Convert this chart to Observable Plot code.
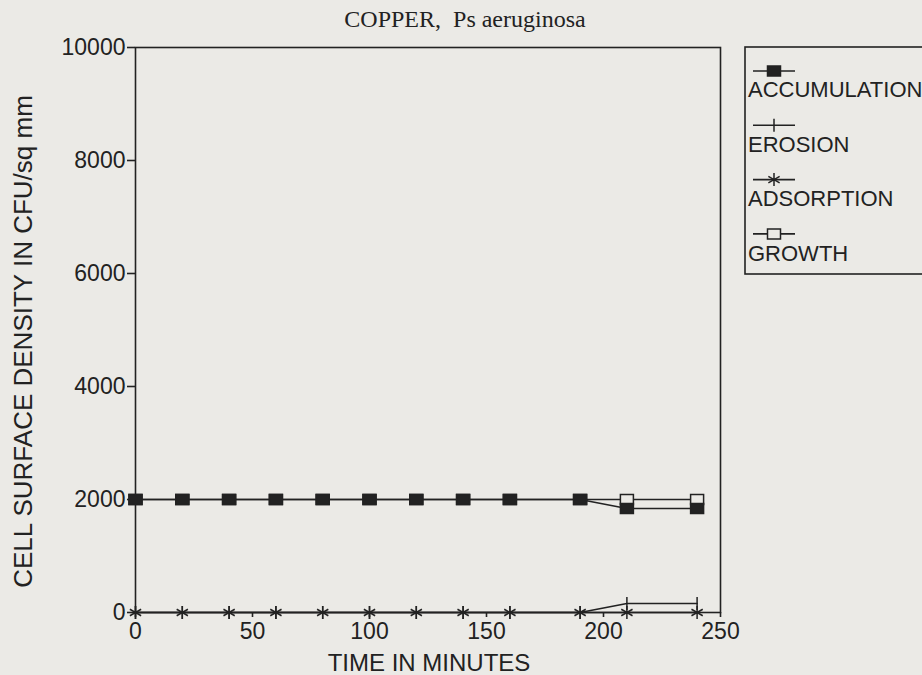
<!DOCTYPE html>
<html><head><meta charset="utf-8">
<script src="https://cdn.jsdelivr.net/npm/d3@7"></script>
<script src="https://cdn.jsdelivr.net/npm/@observablehq/plot@0.6"></script>
<style>
html,body{margin:0;padding:0;background:#ebeae6;}
#chart{width:922px;height:675px;overflow:hidden;}
</style></head><body><div id="chart"></div>
<script>
const title = "COPPER,\u00a0\u00a0Ps aeruginosa";
const xLabel = "TIME IN MINUTES";
const yLabel = "CELL SURFACE DENSITY IN CFU/sq mm";
const seriesNames = ["ACCUMULATION", "EROSION", "ADSORPTION", "GROWTH"];
const time =         [0, 20, 40, 60, 80, 100, 120, 140, 160, 190, 210, 240];
const accumulation = [2000, 2000, 2000, 2000, 2000, 2000, 2000, 2000, 2000, 2000, 1840, 1840];
const erosion =      [0, 0, 0, 0, 0, 0, 0, 0, 0, 0, 160, 160];
const adsorption =   [0, 0, 0, 0, 0, 0, 0, 0, 0, 0, 0, 0];
const growth =       [2000, 2000, 2000, 2000, 2000, 2000, 2000, 2000, 2000, 2000, 2000, 2000];
const xTicks = [0, 50, 100, 150, 200, 250];
const yTicks = [0, 2000, 4000, 6000, 8000, 10000];

const ink = "#222";
const bg = "#ebeae6";
const rectSym = {draw(ctx){ctx.moveTo(-6.5,-5);ctx.lineTo(6.5,-5);ctx.lineTo(6.5,5);ctx.lineTo(-6.5,5);ctx.closePath();}};
const tickSym = {draw(ctx){ctx.moveTo(0,-6.5);ctx.lineTo(0,6.5);}};
const starSym = {draw(ctx){const r=6.5,a=r*Math.cos(Math.PI/6),b=r*Math.sin(Math.PI/6);
  ctx.moveTo(0,-r);ctx.lineTo(0,r);ctx.moveTo(-a,-b);ctx.lineTo(a,b);ctx.moveTo(-a,b);ctx.lineTo(a,-b);}};

const series = [
  {name: seriesNames[3], values: growth, symbol: rectSym, fill: bg},
  {name: seriesNames[1], values: erosion, symbol: tickSym, fill: "none"},
  {name: seriesNames[2], values: adsorption, symbol: starSym, fill: "none"},
  {name: seriesNames[0], values: accumulation, symbol: rectSym, fill: ink}
];

const marks = [
  Plot.frame({stroke: ink, strokeWidth: 1.6}),
  Plot.axisY({ticks: yTicks, tickSize: 8, tickPadding: 2, label: null, tickFormat: d => String(d), fontSize: 23, stroke: ink, strokeWidth: 1.6}),
  Plot.axisX({ticks: xTicks, tickSize: 5, tickPadding: 5, label: null, tickFormat: d => String(d), fontSize: 23, stroke: ink, strokeWidth: 1.6})
];
for (const s of series) {
  const d = time.map((t, i) => ({t, v: s.values[i]}));
  marks.push(Plot.line(d, {x: "t", y: "v", stroke: ink, strokeWidth: 1.6}));
  marks.push(Plot.dot(d, {x: "t", y: "v", symbol: s.symbol, r: 5, stroke: ink, strokeWidth: 1.5, fill: s.fill}));
}
marks.push(Plot.text([title], {text: d => d, frameAnchor: "top", textAnchor: "middle", lineAnchor: "bottom", dx: 37, dy: -21, fontSize: 24, fontFamily: "'Liberation Serif', 'Times New Roman', serif", fill: ink}));
marks.push(Plot.text([xLabel], {text: d => d, frameAnchor: "bottom", textAnchor: "middle", lineAnchor: "bottom", dx: 1, dy: 58, fontSize: 24, fill: ink}));
marks.push(Plot.text([yLabel], {text: d => d, frameAnchor: "left", textAnchor: "middle", rotate: -90, lineAnchor: "middle", dx: -112, dy: 11.5, fontSize: 26, fill: ink}));

const chart = Plot.plot({
  width: 922, height: 675,
  marginLeft: 135, marginRight: 202, marginTop: 47, marginBottom: 63,
  style: {background: "transparent", fontFamily: "'Liberation Sans', Arial, sans-serif", color: ink, overflow: "visible"},
  x: {domain: [0, 250]},
  y: {domain: [0, 10000]},
  marks
});
document.getElementById("chart").appendChild(chart);

// Legend
const svg = d3.select(chart);
const lg = svg.append("g").attr("text-anchor", "start");
lg.append("rect").attr("x", 745).attr("y", 47).attr("width", 220).attr("height", 227)
  .attr("fill", "none").attr("stroke", ink).attr("stroke-width", 1.6);
const legendItems = [
  {name: seriesNames[0], symbol: rectSym, fill: ink},
  {name: seriesNames[1], symbol: tickSym, fill: "none"},
  {name: seriesNames[2], symbol: starSym, fill: "none"},
  {name: seriesNames[3], symbol: rectSym, fill: bg}
];
legendItems.forEach((it, i) => {
  const sy = 71 + 54.3 * i, ty = 97 + 54.7 * i;
  lg.append("line").attr("x1", 753).attr("x2", 795).attr("y1", sy).attr("y2", sy).attr("stroke", ink).attr("stroke-width", 1.6);
  lg.append("path").attr("d", d3.symbol().type(it.symbol)()).attr("transform", `translate(774,${sy})`)
    .attr("fill", it.fill).attr("stroke", ink).attr("stroke-width", 1.5);
  lg.append("text").attr("x", 748).attr("y", ty).attr("font-size", 22).attr("fill", ink).attr("text-anchor", "start")
    .attr("font-family", "'Liberation Sans', Arial, sans-serif").text(it.name);
});
</script></body></html>
